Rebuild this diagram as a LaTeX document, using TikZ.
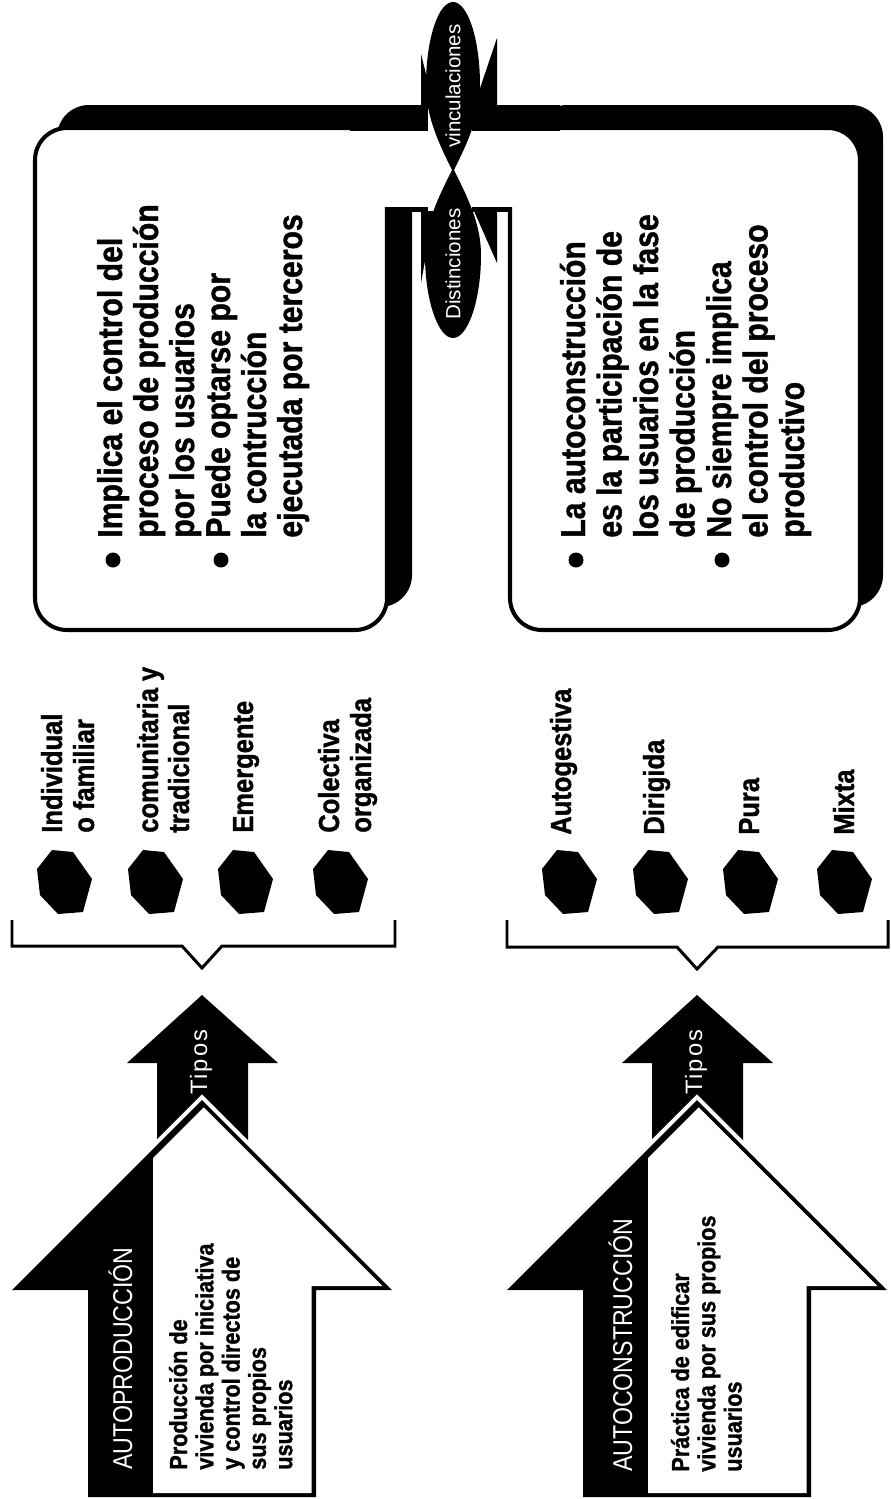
\documentclass[tikz,border=0pt]{standalone}
\usepackage{fontspec}
\setmainfont{Liberation Sans}
\newfontfamily\cbold{Liberation Sans}[FakeStretch=0.88, FakeBold=1.2]
\newfontfamily\clight{Liberation Sans}[FakeStretch=0.85]
\newfontfamily\spaced{Liberation Sans}[LetterSpace=8]
\tikzset{
  boxtxt/.style={rotate=90, anchor=base west, inner sep=0pt, font=\cbold\bfseries\fontsize{19.5}{21}\selectfont},
  typetxt/.style={rotate=90, anchor=base west, inner sep=0pt, font=\cbold\bfseries\fontsize{16.5}{18}\selectfont},
  arrtxt/.style={rotate=90, anchor=base west, inner sep=0pt, font=\cbold\bfseries\fontsize{14}{15}\selectfont},
  titletxt/.style={rotate=90, anchor=base west, inner sep=0pt, text=white, font=\clight\fontsize{15.5}{17}\selectfont},
  tipotxt/.style={rotate=90, anchor=base west, inner sep=0pt, text=white, font=\spaced\fontsize{13.5}{15}\selectfont},
  lenstxt/.style={rotate=90, anchor=center, inner sep=0pt, text=white, font=\fontsize{11.7}{13}\selectfont},
  bracketline/.style={line width=1.7pt, line join=miter},
  boxborder/.style={fill=white, draw=black, line width=2.3pt, rounded corners=0.64cm},
  boxshadow/.style={fill=black, rounded corners=0.64cm},
}
\begin{document}
\begin{tikzpicture}[x=0.02cm, y=-0.02cm]
\useasboundingbox (0,0) rectangle (890,1499);
\fill[white] (0,0) rectangle (890,1499);

% ---------------- top boxes ----------------
% left box
\path[boxshadow] (57,105) rectangle (412,607);
\path[boxborder] (35,128) rectangle (387,630);
\fill[white] (350,130.5) rectangle (430,207);
\fill (350,105) rectangle (428,130.5);
\fill (385,207) rectangle (428,212);
% right box
\path[boxshadow] (535,105) rectangle (883,607);
\path[boxborder] (510,128) rectangle (860,630);
\fill[white] (478,130.5) rectangle (545,207);
\fill (472,105) rectangle (560,130.5);
\fill (472,207) rectangle (512,212);

% spikes
\fill (421,54) -- (421,106) -- (434,106) -- cycle;
\fill (497,38) -- (497,106) -- (474,106) -- cycle;
\fill (421,283) -- (421,211) -- (434,211) -- cycle;
\fill (497,263) -- (497,211) -- (474,211) -- cycle;

% lenses
\fill (453,172) .. controls (437,140) and (426,115) .. (426,85)
  .. controls (426,40) and (438,2) .. (453,2)
  .. controls (468,2) and (480,40) .. (480,85)
  .. controls (480,115) and (469,140) .. (453,172) -- cycle;
\fill (453,168) .. controls (437,200) and (425,225) .. (425,255)
  .. controls (425,300) and (438,338) .. (453,338)
  .. controls (468,338) and (481,300) .. (481,255)
  .. controls (481,225) and (469,200) .. (453,168) -- cycle;
\node[lenstxt] (vinc) at (453,86) {vinculaciones};
\node[lenstxt] (dist) at (453,264) {Distinciones};

% left box text
\node[boxtxt] (L1) at (122,538) {Implica el control del};
\node[boxtxt] (L2) at (158,538) {proceso de producción};
\node[boxtxt] (L3) at (194,538) {por los usuarios};
\node[boxtxt] (L4) at (230,538) {Puede optarse por};
\node[boxtxt] (L5) at (266,538) {la contrucción};
\node[boxtxt] (L6) at (302,538) {ejecutada por terceros};
\fill (113,560) circle (7.5);
\fill (221,560) circle (7.5);

% right box text
\node[boxtxt] (R1) at (585,538) {La autoconstrucción};
\node[boxtxt] (R2) at (621.5,538) {es la participación de};
\node[boxtxt] (R3) at (658,538) {los usuarios en la fase};
\node[boxtxt] (R4) at (694.5,538) {de producción};
\node[boxtxt] (R5) at (731,538) {No siempre implica};
\node[boxtxt] (R6) at (767.5,538) {el control del proceso};
\node[boxtxt] (R7) at (804,538) {productivo};
\fill (576,560) circle (7.5);
\fill (722,560) circle (7.5);

% ---------------- types ----------------
\node[typetxt] (T1) at (62,833) {Individual};
\node[typetxt] (T2) at (94,833) {o familiar};
\node[typetxt] (T3) at (158,833) {comunitaria y};
\node[typetxt] (T4) at (189,833) {tradicional};
\node[typetxt] (T5) at (253,833) {Emergente};
\node[typetxt] (T6) at (339,833) {Colectiva};
\node[typetxt] (T7) at (371,833) {organizada};

\node[typetxt] (S1) at (571,835) {Autogestiva};
\node[typetxt] (S2) at (664,835) {Dirigida};
\node[typetxt] (S3) at (759,835) {Pura};
\node[typetxt] (S4) at (854,835) {Mixta};

\foreach \cx in {64,155,245,340,569,660,750,844}{
  \fill[shift={(\cx,882)}] (-12,-32) -- (9,-30) -- (28,-3) -- (19,30) -- (-6,32) -- (-24,13) -- (-27,-13) -- cycle;
}

% brackets
\draw[bracketline] (12,920) -- (12,946) -- (182,946) -- (202,968) -- (222,946) -- (395,946) -- (395,920);
\draw[bracketline] (507,920) -- (507,947) -- (677,947) -- (697,969) -- (718,947) -- (888,947) -- (888,920);

% ---------------- arrows ----------------
\foreach \d in {0,495}{
  \begin{scope}[shift={(\d,0)}]
    \fill (202,995) -- (278,1063) -- (248,1063) -- (248,1150) -- (157,1150) -- (157,1063) -- (127,1063) -- cycle;
    \draw[white, line width=4.5pt, line join=miter] (202,1100) -- (392,1290) -- (316,1290) -- (316,1497) -- (88,1497) -- (88,1290) -- (12,1290) -- cycle;
    \fill (202,1100) -- (392,1290) -- (316,1290) -- (316,1497) -- (88,1497) -- (88,1290) -- (12,1290) -- cycle;
    \fill[white] (153,1493) -- (153,1158) -- (203.75,1107.25) -- (382.5,1286) -- (311.5,1286) -- (311.5,1493) -- cycle;
  \end{scope}
}
\node[tipotxt] (tip1) at (207,1095) {Tipos};
\node[tipotxt] (tip2) at (702,1095) {Tipos};
\node[titletxt] (ap) at (132,1470) {AUTOPRODUCCIÓN};
\node[titletxt] (ac) at (632,1472) {AUTOCONSTRUCCIÓN};

\node[arrtxt] (A1) at (187,1470) {Producción de};
\node[arrtxt] (A2) at (213.3,1470) {vivienda por iniciativa};
\node[arrtxt] (A3) at (239.6,1470) {y control directos de};
\node[arrtxt] (A4) at (265.9,1470) {sus propios};
\node[arrtxt] (A5) at (292.2,1470) {usuarios};

\node[arrtxt] (B1) at (689,1472) {Práctica de edificar};
\node[arrtxt] (B2) at (715.3,1472) {vivienda por sus propios};
\node[arrtxt] (B3) at (741.6,1472) {usuarios};
\end{tikzpicture}
\end{document}
